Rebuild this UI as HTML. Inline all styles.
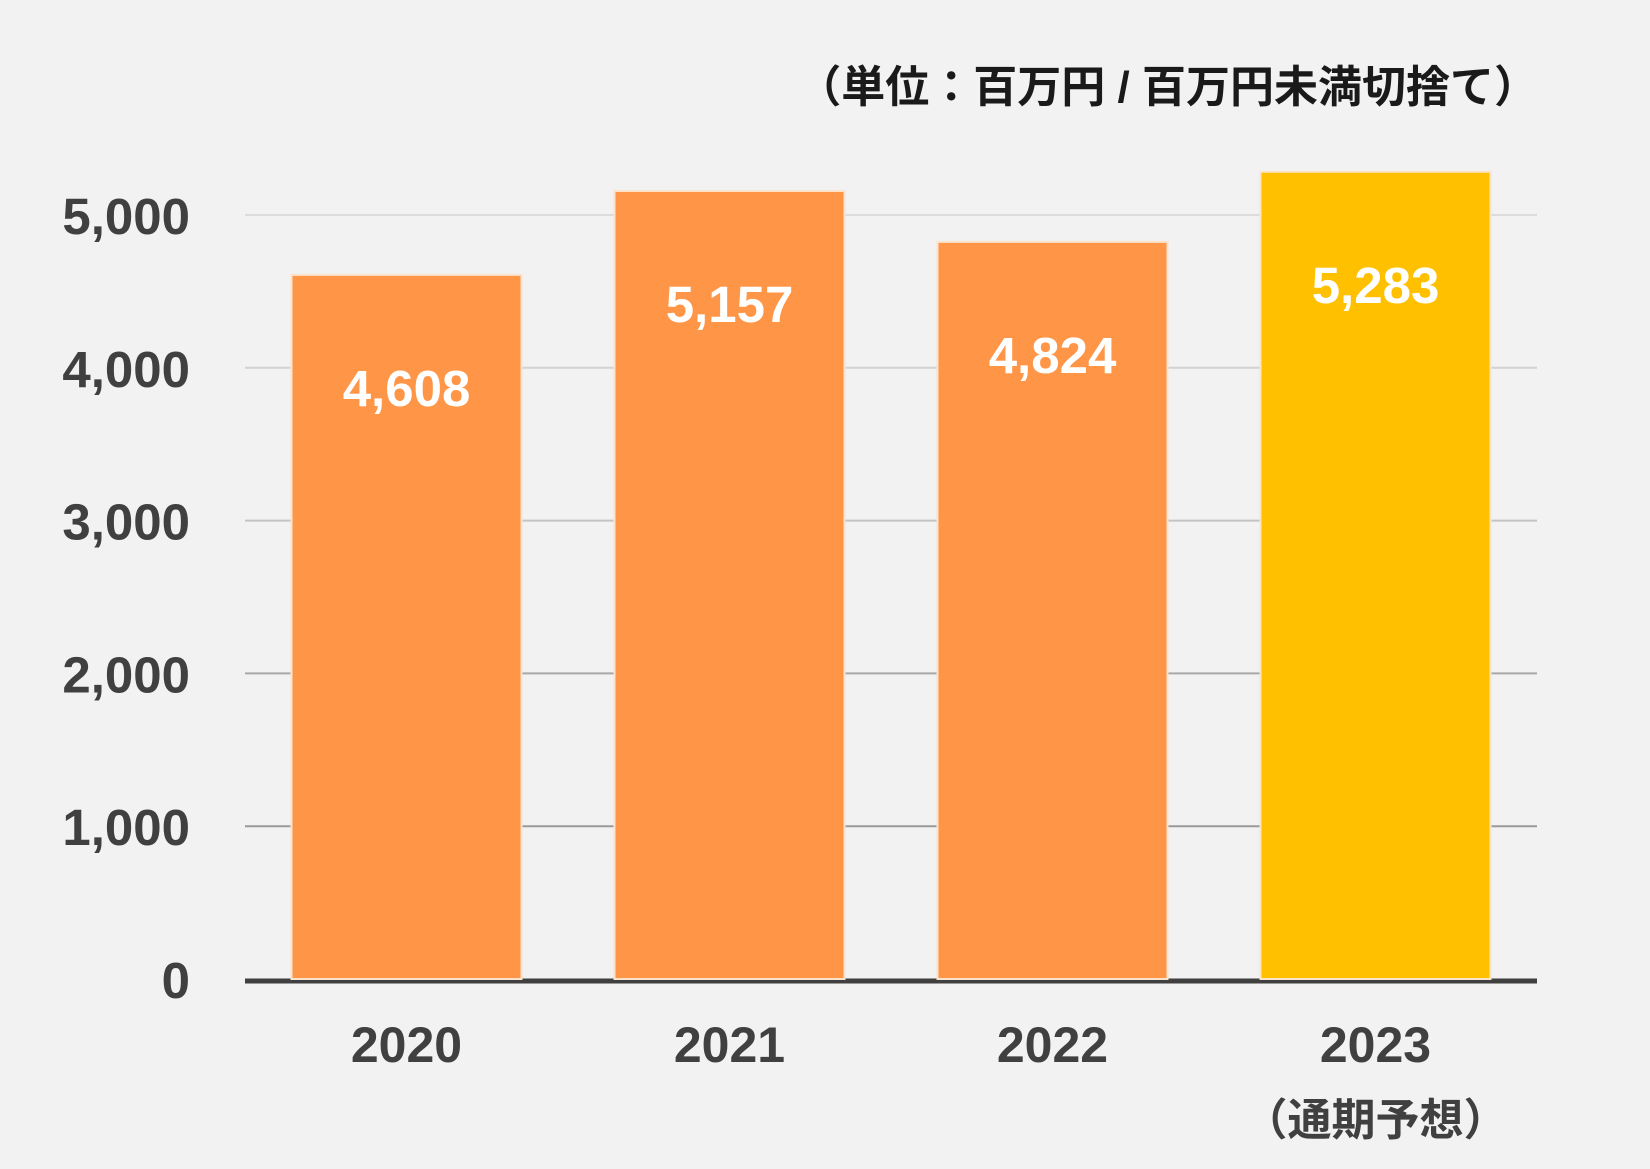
<!DOCTYPE html>
<html><head><meta charset="utf-8"><style>
html,body{margin:0;padding:0;background:#f2f2f2;}
svg{display:block;font-family:"Liberation Sans","Noto Sans CJK JP",sans-serif;}
</style></head><body>
<svg id="chart" width="1650" height="1169" viewBox="0 0 1650 1169" xmlns="http://www.w3.org/2000/svg">
<rect width="1650" height="1169" fill="#f2f2f2"/>
<text x="1538" y="102" text-anchor="end" font-size="44" font-weight="bold" fill="#1a1a1a">（単位：百万円 / 百万円未満切捨て）</text>
<g id="grid"></g><g id="bars"></g><g id="labels"></g>
</svg>
<script>
const categories = ["2020","2021","2022","2023"];
const subLabels = ["","","","（通期予想）"];
const values = [4608,5157,4824,5283];
const valueLabels = ["4,608","5,157","4,824","5,283"];
const ticks = [0,1000,2000,3000,4000,5000];
const tickLabels = ["0","1,000","2,000","3,000","4,000","5,000"];
const colors = ["#ff9546","#ff9546","#ff9546","#ffc000"];
const NS="http://www.w3.org/2000/svg";
const x0=245,x1=1537,y0=979,pxPer=152.8/1000;
const band=(x1-x0)/categories.length, bw=230;
function y(v){return y0-v*pxPer;}
function cx(i){return x0+band*(i+0.5);}
function mk(tag,attrs,parent){const e=document.createElementNS(NS,tag);for(const k in attrs)e.setAttribute(k,attrs[k]);document.getElementById(parent).appendChild(e);return e;}
const gridCols=["#444","#999","#a8a8a8","#c4c4c4","#d2d2d2","#dcdcdc"];
ticks.forEach((t,i)=>{
  if(t>0){const l=mk("line",{x1:x0,x2:x1,y1:y(t),y2:y(t),stroke:gridCols[i],"stroke-width":2},"grid");
  
  }
  const tx=mk("text",{x:190,y:y(t)+19,"text-anchor":"end","font-size":51,"font-weight":"bold",fill:"#404040"},"labels");
  tx.textContent=tickLabels[i];
  
  
});
values.forEach((v,i)=>{
  const r=mk("rect",{x:cx(i)-bw/2,y:y(v),width:bw,height:y0-y(v),fill:colors[i],stroke:"#fbe3cc","stroke-width":2},"bars");
  
  
  const t=mk("text",{x:cx(i),y:y(v)+131,"text-anchor":"middle","font-size":51,"font-weight":"bold",fill:"#ffffff"},"labels");
  t.textContent=valueLabels[i];
  
  
  const c=mk("text",{x:cx(i),y:1062,"text-anchor":"middle","font-size":50,"font-weight":"bold",fill:"#404040"},"labels");
  c.textContent=categories[i];
  
  
  if(subLabels[i]){const s=mk("text",{x:cx(i),y:1135,"text-anchor":"middle","font-size":44,"font-weight":"bold",fill:"#404040"},"labels");
  s.textContent=subLabels[i];
  
  }
});
const ax=mk("line",{x1:x0,x2:x1,y1:y0+2,y2:y0+2,stroke:"#404040","stroke-width":5},"grid");


</script>
</body></html>
